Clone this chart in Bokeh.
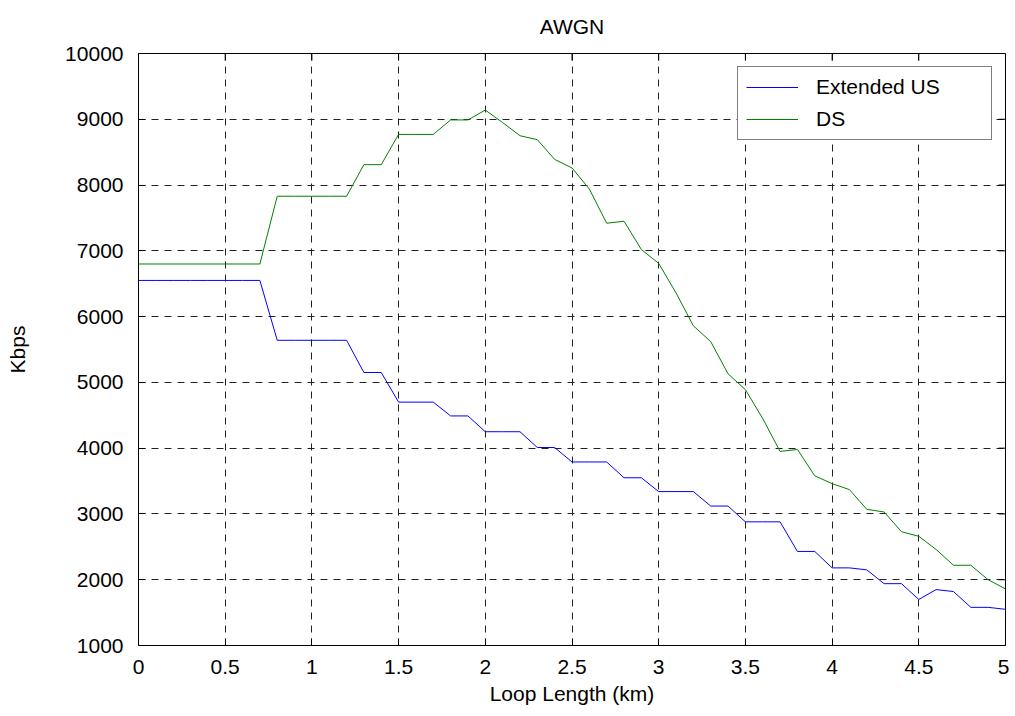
from bokeh.plotting import figure
from bokeh.models import Range1d, FixedTicker, Legend, LegendItem
from bokeh.embed import file_html
from bokeh.resources import INLINE

# ---- data ----
loop_km = [round(i * 0.1, 1) for i in range(51)]
extended_us = [6550, 6550, 6550, 6550, 6550, 6550, 6550, 6550,
               5640, 5640, 5640, 5640, 5640,
               5150, 5150,
               4700, 4700, 4700,
               4490, 4490,
               4250, 4250, 4250,
               4010, 4010,
               3790, 3790, 3790,
               3550, 3550,
               3340, 3340, 3340,
               3120, 3120,
               2880, 2880, 2880,
               2430, 2430,
               2180, 2180,
               2150,
               1940, 1940,
               1700,
               1850,
               1820,
               1580, 1580,
               1550]
ds = [6800, 6800, 6800, 6800, 6800, 6800, 6800, 6800,
      7830, 7830, 7830, 7830, 7830,
      8310, 8310,
      8770, 8770, 8770,
      8990, 8990,
      9140, 8950, 8750, 8690, 8390, 8260, 7940, 7420, 7450, 7020,
      6810, 6360, 5860, 5620, 5130, 4890, 4450, 3950, 3980, 3580,
      3460, 3370, 3070, 3030, 2730, 2660, 2460, 2220, 2220, 2000,
      1860]
x_ticks = [0, 0.5, 1, 1.5, 2, 2.5, 3, 3.5, 4, 4.5, 5]
x_tick_labels = ["0", "0.5", "1", "1.5", "2", "2.5", "3", "3.5", "4", "4.5", "5"]
y_ticks = [1000, 2000, 3000, 4000, 5000, 6000, 7000, 8000, 9000, 10000]
y_tick_labels = ["1000", "2000", "3000", "4000", "5000", "6000", "7000", "8000", "9000", "10000"]
series_names = ["Extended US", "DS"]
series_colors = ["#0000ff", "#008000"]
title_text = "AWGN"

FONT = "Liberation Sans"
FS = "21px"
FRAME_W, FRAME_H = 867, 592
X0, X1, Y0, Y1 = 0, 5, 1000, 10000
TICK_PX = 7

p = figure(frame_width=FRAME_W, frame_height=FRAME_H,
           x_range=Range1d(X0, X1), y_range=Range1d(Y0, Y1),
           output_backend="svg", toolbar_location=None,
           title=title_text,
           min_border_left=138, min_border_top=53,
           min_border_right=4, min_border_bottom=40,
           background_fill_color="white", border_fill_color="white")

p.title.align = "center"
p.title.vertical_align = "top"
p.title.text_font = FONT
p.title.text_font_size = FS
p.title.text_font_style = "normal"
p.title.text_color = "black"
p.title.standoff = 28

p.outline_line_color = "black"
p.outline_line_width = 1

p.xgrid.ticker = FixedTicker(ticks=x_ticks)
p.ygrid.ticker = FixedTicker(ticks=y_ticks)
for g in (p.xgrid, p.ygrid):
    g.grid_line_color = "#222222"
    g.grid_line_dash = "7 6"
    g.grid_line_width = 1

r_us = p.line(loop_km, extended_us, line_color=series_colors[0], line_width=1)
r_ds = p.line(loop_km, ds, line_color=series_colors[1], line_width=1)

# inward tick marks on the top and right edges of the box
dx = TICK_PX * (X1 - X0) / FRAME_W
dy = TICK_PX * (Y1 - Y0) / FRAME_H
p.segment(x0=x_ticks, y0=[Y1] * len(x_ticks), x1=x_ticks, y1=[Y1 - dy] * len(x_ticks),
          line_color="black", line_width=1)
p.segment(x0=[X1] * len(y_ticks), y0=y_ticks, x1=[X1 - dx] * len(y_ticks), y1=y_ticks,
          line_color="black", line_width=1)

xa = p.below[0]
ya = p.left[0]
for ax, ticks, labels in ((xa, x_ticks, x_tick_labels), (ya, y_ticks, y_tick_labels)):
    ax.ticker = FixedTicker(ticks=ticks)
    ax.major_label_overrides = {t: l for t, l in zip(ticks, labels)}
    ax.major_label_text_font = FONT
    ax.major_label_text_font_size = FS
    ax.major_label_text_color = "black"
    ax.major_tick_in = TICK_PX
    ax.major_tick_out = 0
    ax.minor_tick_line_color = None
    ax.axis_line_color = "black"
    ax.major_tick_line_color = "black"
    ax.axis_label_text_font = FONT
    ax.axis_label_text_font_size = FS
    ax.axis_label_text_font_style = "normal"
    ax.axis_label_text_color = "black"

xa.axis_label = "Loop Length (km)"
xa.major_label_standoff = 14
xa.axis_label_standoff = 5
ya.axis_label = "Kbps"
ya.major_label_standoff = 15
ya.axis_label_standoff = 33

legend = Legend(items=[LegendItem(label=series_names[0], renderers=[r_us]),
                       LegendItem(label=series_names[1], renderers=[r_ds])],
                location="top_right", margin=13, padding=8, spacing=8,
                glyph_width=52, glyph_height=20, label_standoff=18, label_width=167,
                label_text_font=FONT, label_text_font_size=FS, label_text_color="black",
                border_line_color="black", border_line_width=1,
                background_fill_color="white", background_fill_alpha=1)
p.add_layout(legend, "center")

open("out.html", "w").write(file_html(p, INLINE))
